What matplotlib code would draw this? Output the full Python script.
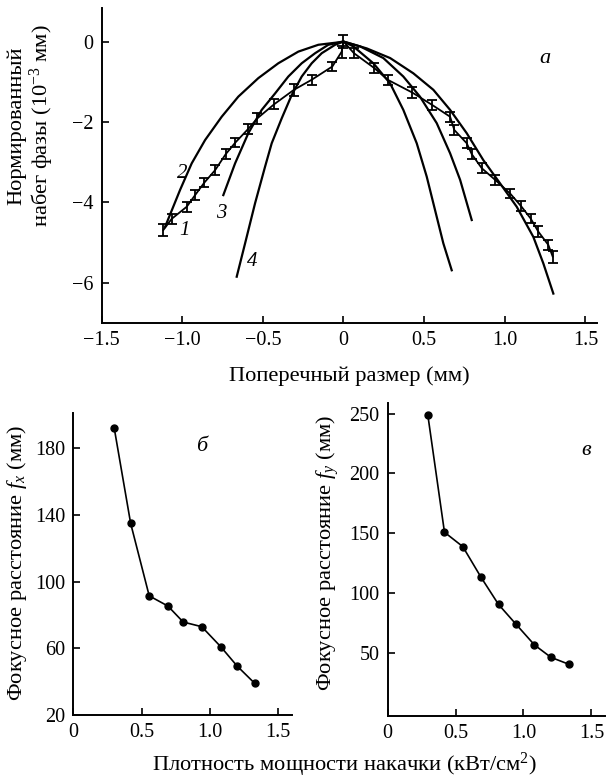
import numpy as np
import matplotlib
matplotlib.use("Agg")
from matplotlib import pyplot as plt

plt.rcParams["font.family"] = ["Liberation Serif", "DejaVu Serif"]
plt.rcParams["mathtext.fontset"] = "custom"
plt.rcParams["mathtext.rm"] = "Liberation Serif"
plt.rcParams["mathtext.it"] = "Liberation Serif:italic"
plt.rcParams["font.size"] = 14.5

TICK_SIZE = 14.5
LABEL_SIZE = 16.2

# --- panel a: measured phase profile (curve 1) with error bars
meas_x = [-1.117, -1.065, -0.972, -0.92, -0.863, -0.796, -0.73, -0.67, -0.59, -0.534,
          -0.43, -0.307, -0.197, -0.069, -0.011, 0.0, 0.065, 0.191, 0.274, 0.427,
          0.551, 0.661, 0.687, 0.764, 0.795, 0.857, 0.94, 1.033, 1.10, 1.16,
          1.208, 1.27, 1.297]
meas_y = [-4.69, -4.41, -4.11, -3.82, -3.51, -3.20, -2.80, -2.51, -2.17, -1.91,
          -1.56, -1.20, -0.95, -0.62, -0.25, 0.0, -0.29, -0.66, -0.95, -1.27,
          -1.58, -1.87, -2.20, -2.53, -2.80, -3.15, -3.44, -3.78, -4.09, -4.40,
          -4.73, -5.06, -5.35]
meas_err = [0.15, 0.13, 0.13, 0.12, 0.12, 0.12, 0.13, 0.12, 0.13, 0.13,
            0.13, 0.15, 0.12, 0.12, 0.15, 0.17, 0.12, 0.12, 0.12, 0.13,
            0.12, 0.12, 0.12, 0.12, 0.12, 0.12, 0.12, 0.12, 0.12, 0.12,
            0.13, 0.13, 0.15]

# fitted curves 2, 3, 4
curve2_x = [-1.106, -1.013, -0.941, -0.858, -0.755, -0.652, -0.528, -0.404, -0.280,
            -0.156, -0.032, 0.0, 0.144, 0.289, 0.433, 0.557, 0.661, 0.764, 0.867,
            0.971, 1.074, 1.177, 1.239, 1.301]
curve2_y = [-4.61, -3.69, -3.03, -2.45, -1.87, -1.37, -0.91, -0.54, -0.25,
            -0.08, -0.02, 0.0, -0.17, -0.41, -0.79, -1.20, -1.70, -2.28, -2.95,
            -3.53, -4.11, -4.86, -5.52, -6.27]
curve3_x = [-0.745, -0.672, -0.590, -0.507, -0.424, -0.342, -0.259, -0.176, -0.094,
            0.0, 0.103, 0.247, 0.371, 0.474, 0.578, 0.661, 0.723, 0.795]
curve3_y = [-3.82, -3.03, -2.28, -1.70, -1.29, -0.87, -0.54, -0.29, -0.08,
            0.0, -0.12, -0.41, -0.87, -1.37, -2.03, -2.78, -3.44, -4.44]
curve4_x = [-0.662, -0.610, -0.548, -0.486, -0.445, -0.383, -0.321, -0.259, -0.197,
            -0.135, -0.052, 0.0, 0.061, 0.185, 0.289, 0.371, 0.454, 0.516, 0.578,
            0.619, 0.671]
curve4_y = [-5.85, -5.02, -4.02, -3.11, -2.53, -1.91, -1.33, -0.87, -0.54,
            -0.29, -0.08, 0.0, -0.12, -0.54, -1.04, -1.70, -2.53, -3.36, -4.36,
            -5.02, -5.69]

# --- panels б and в: focal distance vs pump power density
pump_fx = [0.30, 0.42, 0.556, 0.693, 0.805, 0.941, 1.08, 1.20, 1.329]
focus_fx = [192, 135, 91.5, 85.4, 75.8, 73, 61, 49.4, 39]
pump_fy = [0.295, 0.418, 0.553, 0.688, 0.816, 0.944, 1.081, 1.202, 1.332]
focus_fy = [249, 151, 139, 113.3, 90.8, 74.4, 57, 46.7, 41]


def style_axes(ax):
    for side in ("top", "right"):
        ax.spines[side].set_visible(False)
    for side in ("left", "bottom"):
        ax.spines[side].set_linewidth(1.4)
    ax.tick_params(direction="in", length=5, width=1.2, labelsize=TICK_SIZE, pad=6)


fig = plt.figure(figsize=(6.08, 7.8), dpi=100)

ax_a = fig.add_axes([0.167, 0.586, 0.815, 0.404])
ax_a.plot(curve2_x, curve2_y, color="black", lw=1.6)
ax_a.plot(curve3_x, curve3_y, color="black", lw=1.6)
ax_a.plot(curve4_x, curve4_y, color="black", lw=1.6)
ax_a.errorbar(meas_x, meas_y, yerr=meas_err, color="black", lw=1.3,
              elinewidth=1.3, capsize=3.5, capthick=1.3)
ax_a.set_xlim(-1.5, 1.572)
ax_a.set_ylim(-7.0, 0.84)
ax_a.set_xticks([-1.5, -1.0, -0.5, 0, 0.5, 1.0, 1.5])
ax_a.set_xticklabels(["\u22121.5", "\u22121.0", "\u22120.5", "0", "0.5", "1.0", "1.5"])
ax_a.set_yticks([-6, -4, -2, 0])
ax_a.set_yticklabels(["\u22126", "\u22124", "\u22122", "0"])
style_axes(ax_a)
for label, lx, ly in [("1", -0.987, -4.69), ("2", -0.997, -3.28), ("3", -0.759, -4.27), ("4", -0.569, -5.48)]:
    ax_a.text(lx, ly, label, style="italic", fontsize=15, ha="center", va="center")
ax_a.text(1.25, -0.41, "а", style="italic", fontsize=16, ha="center", va="center")

ax_b = fig.add_axes([0.1206, 0.0833, 0.3592, 0.3867])
ax_b.plot(pump_fx, focus_fx, color="black", lw=1.2, marker="o", ms=5)
ax_b.set_xlim(0, 1.6)
ax_b.set_ylim(20, 201)
ax_b.set_xticks([0, 0.5, 1.0, 1.5])
ax_b.set_xticklabels(["0", "0.5", "1.0", "1.5"])
ax_b.set_yticks([20, 60, 100, 140, 180])
style_axes(ax_b)
ax_b.text(0.94, 181, "б", style="italic", fontsize=16, ha="center", va="center")

ax_c = fig.add_axes([0.6377, 0.0824, 0.3573, 0.4013])
ax_c.plot(pump_fy, focus_fy, color="black", lw=1.2, marker="o", ms=5)
ax_c.set_xlim(0, 1.6)
ax_c.set_ylim(-2, 259)
ax_c.set_xticks([0, 0.5, 1.0, 1.5])
ax_c.set_xticklabels(["0", "0.5", "1.0", "1.5"])
ax_c.set_yticks([50, 100, 150, 200, 250])
style_axes(ax_c)
ax_c.text(1.46, 219, "в", style="italic", fontsize=16, ha="center", va="center")

fig.text(17 / 608, 1 - 126 / 780, "Нормированный", rotation=90, ha="center", va="center", fontsize=LABEL_SIZE)
fig.text(42 / 608, 1 - 126 / 780, "набег фазы (10$^{-3}$ мм)", rotation=90, ha="center", va="center", fontsize=LABEL_SIZE)
fig.text(349 / 608, 1 - 376 / 780, "Поперечный размер (мм)", ha="center", va="center", fontsize=LABEL_SIZE)
fig.text(17 / 608, 1 - 563 / 780, "Фокусное расстояние $f_x$ (мм)", rotation=90, ha="center", va="center", fontsize=LABEL_SIZE)
fig.text(328 / 608, 1 - 553 / 780, "Фокусное расстояние $f_y$ (мм)", rotation=90, ha="center", va="center", fontsize=LABEL_SIZE)
fig.text(344 / 608, 1 - 765 / 780, "Плотность мощности накачки (кВт/см$^2$)", ha="center", va="center", fontsize=LABEL_SIZE)

fig.savefig("out.png", dpi=100)
